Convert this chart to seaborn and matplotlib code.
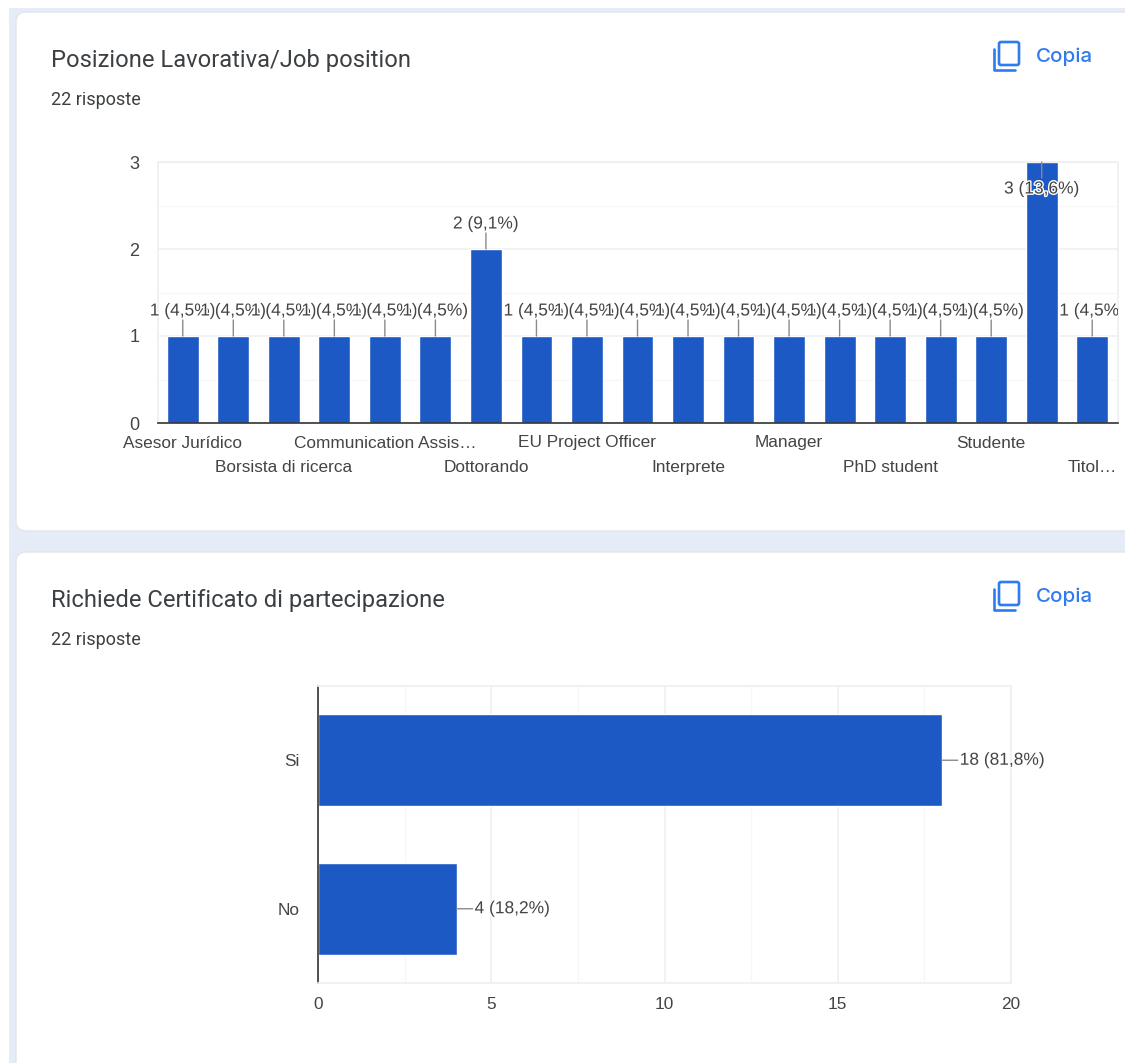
import numpy as np
import pandas as pd
import matplotlib.pyplot as plt
import matplotlib.patheffects as pe
from matplotlib.patches import FancyBboxPatch, Rectangle
from matplotlib.ticker import MultipleLocator
from matplotlib.transforms import Bbox
import seaborn as sns

job_labels = ["Asesor Jurídico", "Borsista di ricerca", "Communication Assis…", "Dottorando",
              "EU Project Officer", "Interprete", "Manager", "PhD student", "Studente", "Titol…"]
job_counts = [1, 1, 1, 1, 1, 1, 2, 1, 1, 1, 1, 1, 1, 1, 1, 1, 1, 3, 1]
job_texts = ["1 (4,5%)"] * 6 + ["2 (9,1%)"] + ["1 (4,5%)"] * 10 + ["3 (13,6%)", "1 (4,5%)"]

cert_answers = ["Si", "No"]
cert_counts = [18, 4]
cert_texts = ["18 (81,8%)", "4 (18,2%)"]

W, H = 1125, 1063
BLUE = "#1c59c4"
TEXT = "#444444"
ACCENT = "#2f7bf0"
halo = [pe.withStroke(linewidth=2, foreground="white")]

sns.set_theme(style="white")
plt.rcParams["font.family"] = ["Liberation Sans", "DejaVu Sans"]


def axes_px(fig, left, top, right, bottom):
    return fig.add_axes([left / W, 1 - bottom / H, (right - left) / W, (bottom - top) / H])


def draw_card(bg, top, bottom, title):
    bg.add_patch(FancyBboxPatch((16, top), 1300, bottom - top, boxstyle="round,pad=0,rounding_size=10",
                                fc="white", ec="#e3e5ea", lw=1))
    bg.text(51, top + 48, title, family="Roboto", fontsize=17.1, color="#3c4043", va="center")
    bg.text(51, top + 88, "22 risposte", family="Roboto", fontsize=13, color="#3c4043", va="center")
    # copy icon
    bg.add_patch(FancyBboxPatch((999, top + 30), 20, 23, boxstyle="round,pad=0,rounding_size=2",
                                fc="none", ec=ACCENT, lw=1.9))
    bg.plot([994, 994, 1015], [top + 37, top + 58, top + 58], color=ACCENT, lw=1.9)
    bg.text(1036, top + 45, "Copia", family="Inter", fontsize=14.8, weight="medium", color=ACCENT, va="center")


def style_grid(ax, axis):
    ax.grid(True, which="major", axis=axis, color="#f0f0f0", lw=1.2)
    ax.grid(True, which="minor", axis=axis, color="#f7f7f7", lw=1)
    ax.set_axisbelow(True)
    ax.tick_params(which="both", length=0)
    ax.set_xlabel("")
    ax.set_ylabel("")


def add_label(ax, x, y, text, dx, dy, ha="center", va="center", end=None):
    # leader line first, then text with a white halo over it
    ex, ey = end if end else (dx, dy)
    ax.annotate("", xy=(x, y), xytext=(ex, ey), textcoords="offset pixels", annotation_clip=False,
                arrowprops=dict(arrowstyle="-", color="#8a8a8a", lw=1, shrinkA=0, shrinkB=0))
    t = ax.annotate(text, xy=(x, y), xytext=(dx, dy), textcoords="offset pixels", ha=ha, va=va,
                    fontsize=12.5, color=TEXT, annotation_clip=False, path_effects=halo)
    t.set_clip_on(True)
    t.set_clip_box(Bbox([[0, 0], [1118, H]]))


fig = plt.figure(figsize=(W / 100, H / 100), dpi=100, facecolor="white")

bg = fig.add_axes([0, 0, 1, 1])
bg.set_xlim(0, W)
bg.set_ylim(H, 0)
bg.axis("off")
bg.add_patch(Rectangle((9, 8), W, H, fc="#e6ecf7", ec="none"))
draw_card(bg, 12, 531, "Posizione Lavorativa/Job position")
draw_card(bg, 552, 1300, "Richiede Certificato di partecipazione")

# job position chart
ax1 = axes_px(fig, 157.5, 162, 1117.5, 423)
jobs = pd.DataFrame({"pos": range(len(job_counts)), "count": job_counts})
sns.barplot(data=jobs, x="pos", y="count", color=BLUE, saturation=1, width=0.63, ax=ax1)
ax1.set_ylim(0, 3)
ax1.set_yticks([0, 1, 2, 3])
ax1.yaxis.set_minor_locator(MultipleLocator(0.5))
style_grid(ax1, "y")
ax1.set_xticks(range(0, len(job_counts), 2))
ax1.set_xticklabels(job_labels, fontsize=12.4, color=TEXT)
for i, tick in enumerate(ax1.xaxis.get_major_ticks()):
    tick.set_pad(9 if i % 2 == 0 else 26.5)
ax1.tick_params(axis="y", labelsize=13, labelcolor=TEXT, pad=13)
for side in ["top", "right", "left"]:
    ax1.spines[side].set_color("#f0f0f0")
ax1.spines["bottom"].set_color("#333333")
ax1.spines["bottom"].set_linewidth(1.2)
for i, (n, s) in enumerate(zip(job_counts, job_texts)):
    if n == max(job_counts):
        add_label(ax1, i, n, s, 0, -27, end=(0, -16))
    else:
        add_label(ax1, i, n, s, 0, 25, end=(0, 16))

# certificate chart
ax2 = axes_px(fig, 318, 686, 1011, 983)
cert = pd.DataFrame({"answer": cert_answers, "count": cert_counts})
sns.barplot(data=cert, x="count", y="answer", orient="h", color=BLUE, saturation=1, width=0.62, ax=ax2)
ax2.set_xlim(0, 20)
ax2.set_xticks([0, 5, 10, 15, 20])
ax2.xaxis.set_minor_locator(MultipleLocator(2.5))
style_grid(ax2, "x")
ax2.tick_params(axis="x", labelsize=12.4, labelcolor=TEXT, pad=10)
ax2.tick_params(axis="y", labelsize=12.4, labelcolor=TEXT, pad=13)
for side in ["top", "right", "bottom"]:
    ax2.spines[side].set_color("#f0f0f0")
ax2.spines["left"].set_color("#333333")
ax2.spines["left"].set_linewidth(1.2)
for i, (n, s) in enumerate(zip(cert_counts, cert_texts)):
    add_label(ax2, n, i, s, 18, 0, ha="left", end=(16, 0))

fig.savefig("out.png", dpi=100)
